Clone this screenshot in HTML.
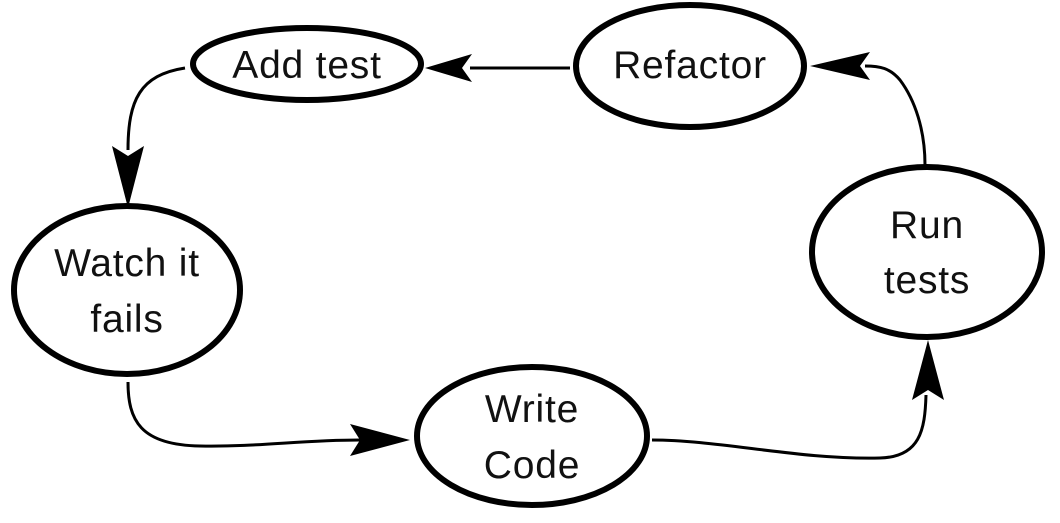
<!DOCTYPE html>
<html><head><meta charset="utf-8"><style>
html,body{margin:0;padding:0;background:#fff;}
svg{display:block;}
text{font-family:"Liberation Sans","DejaVu Sans",sans-serif;font-size:39px;fill:#111;text-anchor:middle;letter-spacing:0.8px;}
</style></head><body>
<svg width="1060" height="523" viewBox="0 0 1060 523" xmlns="http://www.w3.org/2000/svg">
<g fill="#fff" stroke="#000" stroke-width="6">
<ellipse cx="307" cy="64" rx="114" ry="36"/>
<ellipse cx="690" cy="66" rx="114" ry="61"/>
<ellipse cx="127" cy="290" rx="113" ry="84"/>
<ellipse cx="532" cy="436" rx="115" ry="69"/>
<ellipse cx="927" cy="252" rx="115" ry="85"/>
</g>
<g fill="none" stroke="#000" stroke-width="3">
<path d="M570 68 L470 68"/>
<path d="M185 68 C140 75 128 100 128 150"/>
<path d="M128 382 C128 420 140 445 200 446 C260 447 300 440 360 440"/>
<path d="M652 440 C720 440 800 460 880 458 C920 457 925 430 926 395"/>
<path d="M925 165 C925 130 915 100 900 80 C890 68 880 66 865 66"/>
</g>
<g fill="#000">
<polygon points="425,68 472,54 462,68 472,82"/>
<polygon points="128,208 112,146 128,156 144,146"/>
<polygon points="410,440 350,424 360,440 350,456"/>
<polygon points="928,340 912,400 928,390 944,400"/>
<polygon points="810,66 870,52 860,66 870,80"/>
</g>
<text x="307" y="78">Add test</text>
<text x="690" y="78">Refactor</text>
<text x="127" y="276">Watch it</text>
<text x="127" y="332">fails</text>
<text x="532" y="422">Write</text>
<text x="532" y="478">Code</text>
<text x="927" y="238">Run</text>
<text x="927" y="293">tests</text>
</svg>
</body></html>
